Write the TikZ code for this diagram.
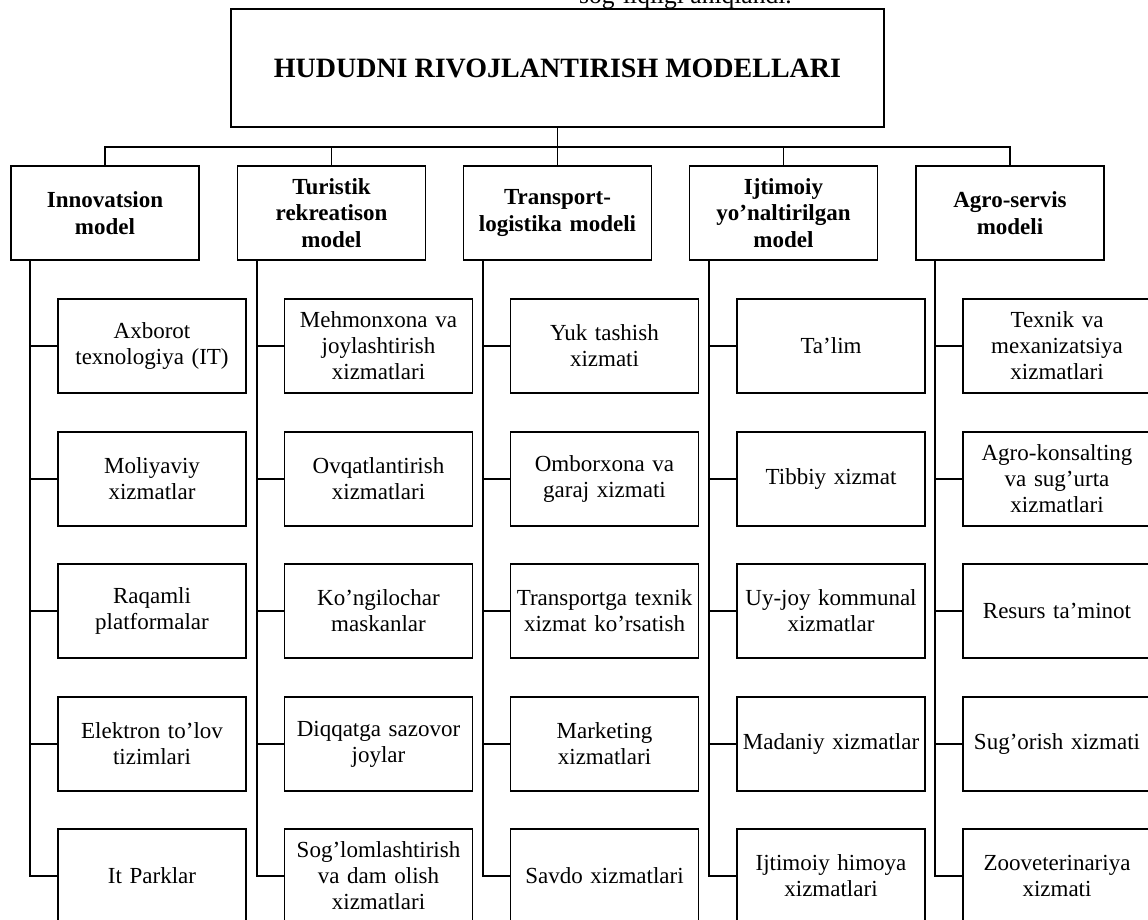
\documentclass[tikz,border=0pt]{standalone}
\usepackage{fontspec}
\setmainfont{Liberation Serif}

\begin{document}
\begin{tikzpicture}[x=1pt, y=-1pt,
  head/.style={draw, line width=1.8pt, minimum width=653pt, minimum height=118pt, font=\fontsize{28}{32}\selectfont\bfseries},
  model/.style={draw, line width=1.8pt, align=center, text width=184pt, inner sep=2pt, minimum height=94pt, font=\fontsize{23}{26.5}\selectfont\bfseries},
  item/.style={draw, line width=1.8pt, align=center, text width=184pt, inner sep=2pt, minimum height=94pt, font=\fontsize{23}{26}\selectfont},
  link/.style={line width=1.8pt}]
\useasboundingbox (0,0) rectangle (1148,920);

\node[anchor=base west, inner sep=0pt, font=\fontsize{25.5}{28}\selectfont] (note) at (579,3.5) {sog‘liqligi aniqlandi.};

\node[head] (top) at (557.5,68) {HUDUDNI RIVOJLANTIRISH MODELLARI};

% models
\node[model] (m1) at (105,213) {Innovatsion\\model};
\node[model] (m2) at (331.5,213) {Turistik\\rekreatison\\model};
\node[model] (m3) at (557.5,213) {Transport-\\logistika modeli};
\node[model] (m4) at (783.5,213) {Ijtimoiy\\yo’naltirilgan\\model};
\node[model] (m5) at (1010,213) {Agro-servis\\modeli};

% services
\node[item] (s11) at (152,346) {Axborot\\texnologiya (IT)};
\node[item] (s12) at (152,479) {Moliyaviy\\xizmatlar};
\node[item] (s13) at (152,611) {Raqamli\\platformalar};
\node[item] (s14) at (152,744) {Elektron to’lov\\tizimlari};
\node[item] (s15) at (152,876) {It Parklar};

\node[item] (s21) at (378.5,346) {Mehmonxona va\\joylashtirish\\xizmatlari};
\node[item] (s22) at (378.5,479) {Ovqatlantirish\\xizmatlari};
\node[item] (s23) at (378.5,611) {Ko’ngilochar\\maskanlar};
\node[item] (s24) at (378.5,744) {Diqqatga sazovor\\joylar};
\node[item] (s25) at (378.5,876) {Sog’lomlashtirish\\va dam olish\\xizmatlari};

\node[item] (s31) at (604.5,346) {Yuk tashish\\xizmati};
\node[item] (s32) at (604.5,479) {Omborxona va\\garaj xizmati};
\node[item] (s33) at (604.5,611) {Transportga texnik\\xizmat ko’rsatish};
\node[item] (s34) at (604.5,744) {Marketing\\xizmatlari};
\node[item] (s35) at (604.5,876) {Savdo xizmatlari};

\node[item] (s41) at (831,346) {Ta’lim};
\node[item] (s42) at (831,479) {Tibbiy xizmat};
\node[item] (s43) at (831,611) {Uy-joy kommunal\\xizmatlar};
\node[item] (s44) at (831,744) {Madaniy xizmatlar};
\node[item] (s45) at (831,876) {Ijtimoiy himoya\\xizmatlari};

\node[item] (s51) at (1057,346) {Texnik va\\mexanizatsiya\\xizmatlari};
\node[item] (s52) at (1057,479) {Agro-konsalting\\va sug’urta\\xizmatlari};
\node[item] (s53) at (1057,611) {Resurs ta’minot};
\node[item] (s54) at (1057,744) {Sug’orish xizmati};
\node[item] (s55) at (1057,876) {Zooveterinariya\\xizmati};

% connectors
\draw[link] (top.south) -- ++(0,19) -| (m1.north); \draw[link] (top.south) -- ++(0,19) -| (m2.north);
\draw[link] (top.south) -- (m3.north);
\draw[link] (top.south) -- ++(0,19) -| (m4.north); \draw[link] (top.south) -- ++(0,19) -| (m5.north);

\draw[link] ([xshift=20pt]m1.south west) |- (s11.west); \draw[link] ([xshift=20pt]m1.south west) |- (s12.west);
\draw[link] ([xshift=20pt]m1.south west) |- (s13.west); \draw[link] ([xshift=20pt]m1.south west) |- (s14.west);
\draw[link] ([xshift=20pt]m1.south west) |- (s15.west);

\draw[link] ([xshift=20pt]m2.south west) |- (s21.west); \draw[link] ([xshift=20pt]m2.south west) |- (s22.west);
\draw[link] ([xshift=20pt]m2.south west) |- (s23.west); \draw[link] ([xshift=20pt]m2.south west) |- (s24.west);
\draw[link] ([xshift=20pt]m2.south west) |- (s25.west);

\draw[link] ([xshift=20pt]m3.south west) |- (s31.west); \draw[link] ([xshift=20pt]m3.south west) |- (s32.west);
\draw[link] ([xshift=20pt]m3.south west) |- (s33.west); \draw[link] ([xshift=20pt]m3.south west) |- (s34.west);
\draw[link] ([xshift=20pt]m3.south west) |- (s35.west);

\draw[link] ([xshift=20pt]m4.south west) |- (s41.west); \draw[link] ([xshift=20pt]m4.south west) |- (s42.west);
\draw[link] ([xshift=20pt]m4.south west) |- (s43.west); \draw[link] ([xshift=20pt]m4.south west) |- (s44.west);
\draw[link] ([xshift=20pt]m4.south west) |- (s45.west);

\draw[link] ([xshift=20pt]m5.south west) |- (s51.west); \draw[link] ([xshift=20pt]m5.south west) |- (s52.west);
\draw[link] ([xshift=20pt]m5.south west) |- (s53.west); \draw[link] ([xshift=20pt]m5.south west) |- (s54.west);
\draw[link] ([xshift=20pt]m5.south west) |- (s55.west);
\end{tikzpicture}
\end{document}
